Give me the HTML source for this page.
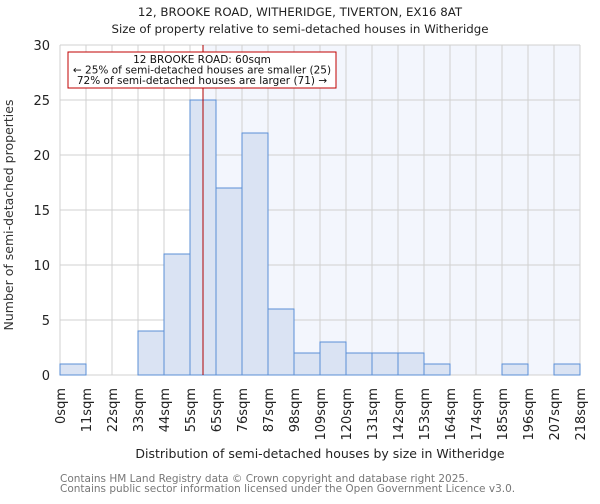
<!DOCTYPE html>
<html><head><meta charset="utf-8"><style>
body{margin:0;background:#fff;font-family:"DejaVu Sans","Liberation Sans",sans-serif}
svg text{font-family:"DejaVu Sans","Liberation Sans",sans-serif}
</style></head><body>
<svg id="c" width="600" height="500" viewBox="0 0 600 500">
<text x="300" y="16" text-anchor="middle" font-size="11.8" fill="#222">12, BROOKE ROAD, WITHERIDGE, TIVERTON, EX16 8AT</text>
<text x="300" y="33" text-anchor="middle" font-size="11.8" fill="#222">Size of property relative to semi-detached houses in Witheridge</text>
<g id="plot"></g>
<text transform="translate(13,215) rotate(-90)" text-anchor="middle" font-size="12.5" fill="#333">Number of semi-detached properties</text>
<text x="320" y="458" text-anchor="middle" font-size="12.5" fill="#222">Distribution of semi-detached houses by size in Witheridge</text>
<text x="60" y="482" font-size="10.5" fill="#777">Contains HM Land Registry data © Crown copyright and database right 2025.</text>
<text x="60" y="492" font-size="10.5" fill="#777">Contains public sector information licensed under the Open Government Licence v3.0.</text>
</svg>
<script>
const categories=["0sqm","11sqm","22sqm","33sqm","44sqm","55sqm","65sqm","76sqm","87sqm","98sqm","109sqm","120sqm","131sqm","142sqm","153sqm","164sqm","174sqm","185sqm","196sqm","207sqm","218sqm"];
const counts=[1,0,0,4,11,25,17,22,6,2,3,2,2,2,1,0,0,1,0,1];
const yTicks=[0,5,10,15,20,25,30];
const markerBin=5.5;
const NS="http://www.w3.org/2000/svg";
const L=60,R=580,T=45,B=375,yMax=30;
const nb=counts.length,bw=(R-L)/nb;
const xs=i=>L+i*bw, ys=v=>B-(v/yMax)*(B-T);
const g=document.getElementById('plot');
function mk(t,a){const e=document.createElementNS(NS,t);for(const k in a)e.setAttribute(k,a[k]);g.appendChild(e);return e;}
const mx=xs(markerBin);
let e=mk('rect',{x:mx,y:T,width:R-mx,height:B-T,fill:'#f3f6fd'});


for(let i=0;i<=nb;i++){e=mk('line',{x1:xs(i),x2:xs(i),y1:T,y2:B,stroke:'#d0d0d0'});

}
yTicks.forEach(v=>{e=mk('line',{x1:L,x2:R,y1:ys(v),y2:ys(v),stroke:'#d0d0d0'});


const t=mk('text',{x:L-10,y:ys(v)+5,'text-anchor':'end','font-size':13,fill:'#222'});t.textContent=v;

});
counts.forEach((c,i)=>{if(c<=0)return;e=mk('rect',{x:xs(i),y:ys(c),width:bw,height:B-ys(c),fill:'#dae3f3',stroke:'#5b8fd6','stroke-width':1});

});
categories.forEach((c,i)=>{const t=mk('text',{transform:`translate(${xs(i)+5},388) rotate(-90)`,'text-anchor':'end','font-size':13,fill:'#222'});t.textContent=c;

});
e=mk('line',{x1:mx,x2:mx,y1:T,y2:B,stroke:'#b00000','stroke-width':1});


e=mk('rect',{x:68,y:52,width:268,height:36,fill:'#fff',stroke:'#c00000','stroke-width':1});


["12 BROOKE ROAD: 60sqm","← 25% of semi-detached houses are smaller (25)","72% of semi-detached houses are larger (71) →"].forEach((s,k)=>{const t=mk('text',{x:202,y:63+k*10.5,'text-anchor':'middle','font-size':10.5,fill:'#111'});t.textContent=s;

});
</script>
</body></html>
